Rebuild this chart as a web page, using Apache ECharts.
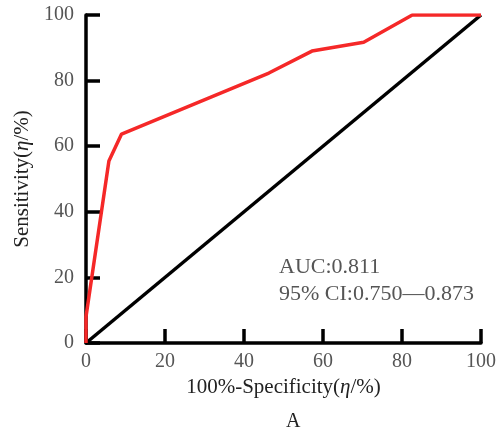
<!DOCTYPE html>
<html>
  <head>
    <meta charset="utf-8" />
    <title>ROC</title>
    <script src="https://cdn.jsdelivr.net/npm/echarts@6/dist/echarts.min.js"></script>
  </head>
  <body style="margin: 0">
    <div id="main" style="width: 499px; height: 432px"></div>
    <script type="text/javascript">
      var myChart = echarts.init(document.getElementById("main"));

      // ROC curve
      var rocX = [0, 0, 5.8, 9, 46.3, 57.2, 70.3, 82.6, 100];
      var rocY = [0, 8, 55.5, 63.7, 82.3, 89, 91.7, 100, 100];
      var refX = [0, 100];
      var refY = [0, 100];
      var ticks = [0, 20, 40, 60, 80, 100];
      var aucText = ["AUC:0.811", "95% CI:0.750—0.873"];

      var serif = "Liberation Serif";
      var rich = { i: { fontStyle: "italic", fontFamily: serif, fontSize: 21, color: "#222" } };

      function pairs(xs, ys) {
        return xs.map(function (x, i) { return [x, ys[i]]; });
      }

      var axisBase = {
        type: "value",
        min: ticks[0],
        max: ticks[ticks.length - 1],
        interval: 20,
        splitLine: { show: false },
        axisLine: { lineStyle: { color: "#000", width: 3.5 } },
        axisTick: { inside: true, length: 14, lineStyle: { color: "#000", width: 3.5 } },
        axisLabel: { fontFamily: serif, fontSize: 20, color: "#555" },
        nameLocation: "middle",
        nameTextStyle: { fontFamily: serif, fontSize: 21, color: "#222", rich: rich },
      };

      option = {
        animation: false,
        grid: { left: 86, right: 16, top: 15, bottom: 89 },
        xAxis: Object.assign({}, axisBase, {
          name: "100%-Specificity({i|η}/%)",
          nameGap: 34,
          axisLabel: Object.assign({}, axisBase.axisLabel, { margin: 9 }),
        }),
        yAxis: Object.assign({}, axisBase, {
          name: "Sensitivity({i|η}/%)",
          nameGap: 47,
          axisLabel: Object.assign({}, axisBase.axisLabel, { margin: 12 }),
        }),
        graphic: [
          {
            type: "text",
            left: 279,
            top: 254,
            style: {
              text: aucText.join("\n"),
              font: "22px " + serif,
              fill: "#555",
              lineHeight: 27,
            },
          },
          {
            type: "text",
            left: 286,
            top: 412,
            style: { text: "A", font: "20px " + serif, fill: "#222" },
          },
        ],
        series: [
          {
            type: "line",
            data: pairs(refX, refY),
            symbol: "none",
            lineStyle: { color: "#000", width: 3.5 },
            z: 2,
          },
          {
            type: "line",
            data: pairs(rocX, rocY),
            symbol: "none",
            lineStyle: { color: "#f52828", width: 3.5 },
            z: 3,
          },
        ],
      };

      myChart.setOption(option);
    </script>
  </body>
</html>
